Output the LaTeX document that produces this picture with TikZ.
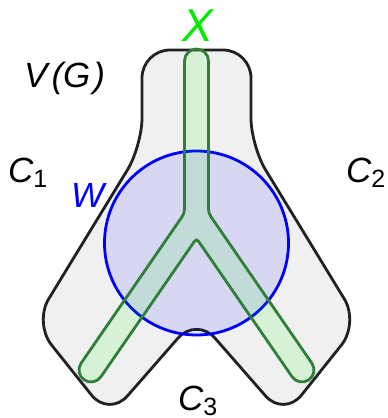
\documentclass[tikz,border=0pt]{standalone}
\usepackage{fontspec}
\setmainfont{Liberation Sans}
\definecolor{shapegray}{HTML}{F0F0F0}
\definecolor{tubegreen}{HTML}{2F7F3A}
\definecolor{labgreen}{RGB}{0,235,0}
\newcommand\lsub[1]{\raisebox{-5pt}{\upshape\fontsize{25}{25}\selectfont #1}}
\begin{document}
\begin{tikzpicture}[x=1pt,y=1pt,
    lab/.style={inner sep=0pt,anchor=base west,font=\fontsize{35}{35}\selectfont\itshape}]
      \useasboundingbox (0,0) rectangle (388,418);
      % V(G)
      \filldraw[fill=shapegray,draw=black!87,line width=2.8pt,rounded corners=28pt]
        (142,368) -- (251,368) -- (251,272) -- (359,95) -- (284,1) -- (196.5,101)
        -- (109,1) -- (34,95) -- (142,272) -- cycle;
      % W
      \filldraw[fill=blue,fill opacity=0.1,draw=blue,line width=2.8pt] (196.5,175) circle (92);
      % X
      \filldraw[fill=green,fill opacity=0.1,draw=tubegreen,line width=2.8pt]
        (208.5,357) arc[start angle=0,end angle=180,radius=12]
        -- (184.5,213.8) .. controls (184.5,204.8) .. (179.4,197.4)
        -- (81.1,54.8) arc[start angle=145.4,end angle=325.4,radius=12]
        -- (192.0,173.1) .. controls (196.5,179.7) .. (201.0,173.1)
        -- (292.1,41.2) arc[start angle=214.6,end angle=394.6,radius=12]
        -- (213.6,197.4) .. controls (208.5,204.8) .. (208.5,213.8) -- cycle;
      \node[lab] (VG) at (24,330) {V\kern4pt(G\kern3pt)};
      \node[lab] (C1) at (8,235) {C\lsub{1}};
      \node[lab] (C2) at (346,235) {C\lsub{2}};
      \node[lab] (C3) at (178,8) {C\lsub{3}};
      \node[lab,text=blue] (W) at (71,210) {W};
      \node[lab,anchor=base,font=\fontsize{46}{46}\selectfont\itshape,text=labgreen] (X) at (198,376) {X};
\end{tikzpicture}
\end{document}
